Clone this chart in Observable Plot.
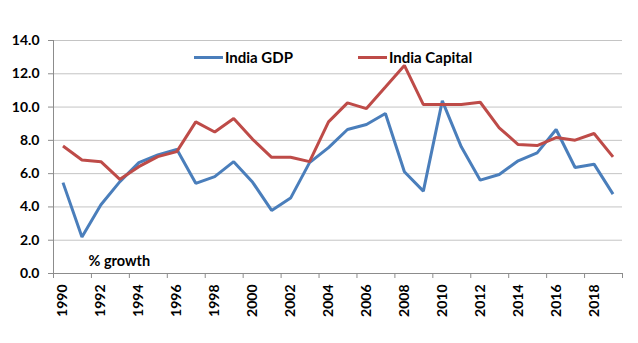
<!DOCTYPE html>
<html>
<head>
<meta charset="utf-8">
<script src="https://cdn.jsdelivr.net/npm/d3@7"></script>
<script src="https://cdn.jsdelivr.net/npm/@observablehq/plot@0.6"></script>
<style>
  html, body { margin: 0; padding: 0; background: #fff; }
  #wrap { position: relative; width: 638px; height: 343px; font-family: Lato, "Open Sans", sans-serif; }
  .leg { position: absolute; top: 48px; font: bold 15px Lato, sans-serif; color: #000; display: flex; align-items: center; white-space: nowrap; }
  .leg .sw { display: inline-block; width: 29px; height: 3px; margin-right: 2px; }
</style>
</head>
<body>
<div id="wrap"></div>
<script>
const years = d3.range(1990, 2020);
const gdp = [5.46, 2.19, 4.13, 5.52, 6.66, 7.12, 7.46, 5.42, 5.82, 6.72,
             5.48, 3.79, 4.53, 6.66, 7.56, 8.65, 8.95, 9.61, 6.11, 4.95,
             10.37, 7.61, 5.61, 5.95, 6.77, 7.25, 8.65, 6.37, 6.57, 4.77];
const capital = [7.66, 6.82, 6.72, 5.66, 6.42, 7.02, 7.32, 9.11, 8.50, 9.31,
                 8.06, 6.98, 6.98, 6.72, 9.11, 10.25, 9.91, 11.20, 12.50, 10.15,
                 10.15, 10.15, 10.29, 8.75, 7.75, 7.69, 8.17, 8.01, 8.41, 7.01];
const seriesNames = ["India GDP", "India Capital"];
const seriesColors = ["#4A7EBB", "#BE4B48"];
const yTicks = [0, 2, 4, 6, 8, 10, 12, 14];
const labelYears = years.filter(y => y % 2 === 0);
const boundaries = d3.range(1989.5, 2020, 2);
const annotation = "% growth";

const data = [
  ...years.map((y, i) => ({year: y, value: gdp[i], series: seriesNames[0]})),
  ...years.map((y, i) => ({year: y, value: capital[i], series: seriesNames[1]}))
];

const axisColor = "#8c8c8c";
const gridColor = "#c4c4c4";

const chart = Plot.plot({
  width: 638,
  height: 343,
  marginLeft: 53,
  marginRight: 16,
  marginTop: 40,
  marginBottom: 70,
  style: {fontFamily: "Lato, 'Open Sans', sans-serif", background: "#fff"},
  x: {type: "linear", domain: [1989.5, 2019.5]},
  y: {domain: [0, 14]},
  color: {domain: seriesNames, range: seriesColors},
  marks: [
    Plot.gridY(yTicks, {stroke: gridColor, strokeOpacity: 1, strokeWidth: 1}),
    Plot.ruleX([1989.5], {stroke: axisColor}),
    Plot.ruleY([0], {stroke: axisColor}),
    Plot.axisY({ticks: yTicks, tickFormat: d => d.toFixed(1), tickSize: 5, tickPadding: 9,
                stroke: axisColor, fill: "#000", fontSize: 14, fontWeight: "bold", label: null}),
    Plot.axisX({ticks: boundaries, tickFormat: () => "", tickSize: 5, stroke: axisColor, label: null}),
    Plot.axisX({ticks: labelYears, tickFormat: d => String(d), tickSize: 0, tickPadding: 11,
                tickRotate: -90, fill: "#000", fontSize: 14, fontWeight: "bold", label: null}),
    Plot.line(data, {x: "year", y: "value", z: "series", stroke: "series", strokeWidth: 3,
                     strokeLinejoin: "miter", strokeLinecap: "butt"}),
    Plot.text([annotation], {frameAnchor: "bottom-left", dx: 35, dy: -8, textAnchor: "start",
                             fontSize: 14.5, fontWeight: "bold", fill: "#000"})
  ]
});

const wrap = document.getElementById("wrap");
wrap.appendChild(chart);

const legendPos = [194, 358];
seriesNames.forEach((name, i) => {
  const d = document.createElement("div");
  d.className = "leg";
  d.style.left = legendPos[i] + "px";
  d.innerHTML = `<span class="sw" style="background:${seriesColors[i]}"></span><span>${name}</span>`;
  wrap.appendChild(d);
});
</script>
</body>
</html>
